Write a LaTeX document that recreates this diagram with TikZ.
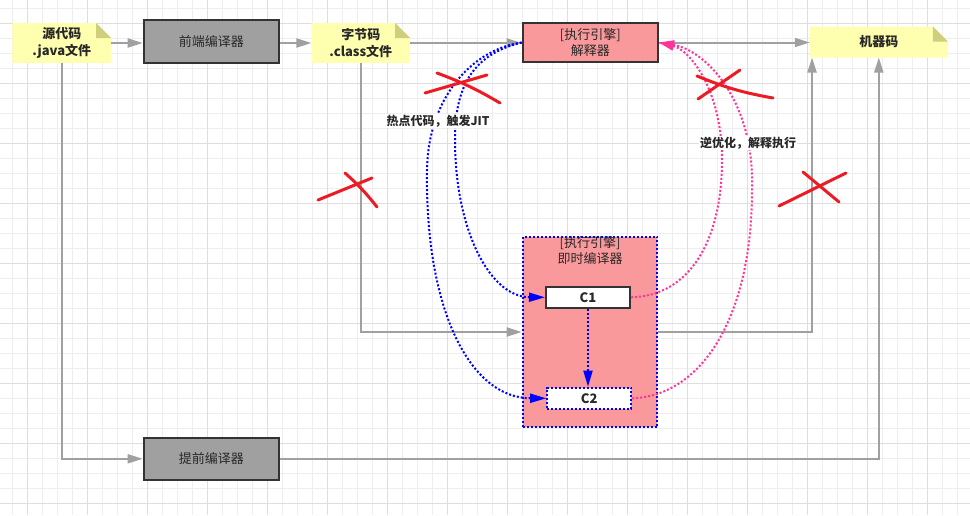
\documentclass[tikz,border=0pt]{standalone}
\usepackage{fontspec}
\setmainfont{Noto Sans CJK SC}
\usetikzlibrary{arrows.meta,calc}
\definecolor{minorgrid}{RGB}{238,238,238}
\definecolor{majorgrid}{RGB}{222,222,222}
\definecolor{notefill}{RGB}{255,255,176}
\definecolor{notefold}{RGB}{206,206,124}
\definecolor{greyfill}{RGB}{160,160,160}
\definecolor{boxline}{RGB}{51,51,51}
\definecolor{txt}{RGB}{40,40,40}
\definecolor{pinkfill}{RGB}{250,153,155}
\definecolor{conncol}{RGB}{160,160,160}
\definecolor{jitblue}{RGB}{0,0,255}
\definecolor{deoptpink}{RGB}{255,51,153}
\definecolor{crossred}{RGB}{237,28,36}
\pgfdeclarelayer{gridlayer}
\pgfdeclarelayer{notelayer}
\pgfsetlayers{gridlayer,notelayer,main}
\begin{document}
\begin{tikzpicture}[x=1pt,y=-1pt,
  box/.style={draw=boxline,line width=2pt,text=txt,font=\fontsize{13}{16}\selectfont,align=center,inner sep=0pt},
  greybox/.style={box,fill=greyfill,minimum width=135.3pt,minimum height=43pt},
  notenode/.style={inner sep=0pt,text=txt,font=\fontsize{13}{16.5}\selectfont\bfseries,align=center},
  cbox/.style={box,fill=white,minimum width=84pt,minimum height=21.3pt,font=\fontsize{13}{16}\selectfont\bfseries},
  conn/.style={draw=conncol,line width=2pt,-{Triangle[length=15pt,width=9pt]}},
  blueconn/.style={draw=jitblue,line width=2pt,dotted,-{Triangle[length=16pt,width=9pt,fill=jitblue]}},
  pinkconn/.style={draw=deoptpink,line width=2pt,dotted,-{Triangle[length=15pt,width=9pt,fill=deoptpink]}},
  lbl/.style={fill=white,inner sep=1pt,text=txt,font=\fontsize{12}{14}\selectfont\bfseries},
  crossline/.style={draw=crossred,line width=3pt,line cap=round}
]
\useasboundingbox (0,0) rectangle (970,515);
\begin{pgfonlayer}{gridlayer}
  \fill[white] (0,0) rectangle (970,515);
  \foreach \i in {0,...,63} \draw[minorgrid,line width=1pt] ({12.7+15*\i},0) -- ({12.7+15*\i},515);
  \foreach \i in {0,...,33} \draw[minorgrid,line width=1pt] (0,{8.3+15*\i}) -- (970,{8.3+15*\i});
  \foreach \i in {0,...,15} \draw[majorgrid,line width=1pt] ({27.7+60*\i},0) -- ({27.7+60*\i},515);
  \foreach \i in {0,...,8} \draw[majorgrid,line width=1pt] (0,{23.3+60*\i}) -- (970,{23.3+60*\i});
\end{pgfonlayer}

% nodes
\node[notenode,minimum width=98.3pt,minimum height=39.4pt] (src) at (61.8,43) {源代码\\.java文件};
\node[greybox] (fe) at (211.3,41.8) {前端编译器};
\node[notenode,minimum width=98.3pt,minimum height=39.4pt] (bc) at (360.8,43) {字节码\\.class文件};
\node[box,fill=pinkfill,minimum width=135.3pt,minimum height=38.4pt] (interp) at (590.3,42.5) {[执行引擎]\\解释器};
\node[notenode,minimum width=137.7pt,minimum height=30.6pt] (mc) at (878.8,42) {机器码};
\node[greybox,minimum height=42.3pt] (aot) at (211.3,458.8) {提前编译器};
\node[draw=jitblue,dotted,line width=2pt,fill=pinkfill,minimum width=134.6pt,minimum height=190.6pt,inner sep=0pt] (jit) at (590,332) {};
\node[text=txt,font=\fontsize{13}{16}\selectfont,align=center,inner sep=0pt] (jitlabel) at ($(jit.north)+(0,15)$) {[执行引擎]\\即时编译器};
\node[cbox] (c1) at (588,297.3) {C1};
\node[cbox,draw=jitblue,dotted] (c2) at (589.2,398.3) {C2};

% note backgrounds
\begin{pgfonlayer}{notelayer}
  \foreach \n in {src,bc,mc} {
    \fill[notefill] (\n.north west) -- ($(\n.north east)+(-15,0)$) -- ($(\n.north east)+(0,15)$) -- (\n.south east) -- (\n.south west) -- cycle;
    \fill[notefold] ($(\n.north east)+(-15,0)$) -- ($(\n.north east)+(-15,15)$) -- ($(\n.north east)+(0,15)$) -- cycle;
  }
\end{pgfonlayer}

% grey connectors
\draw[conn] (src.east) -- (src.east -| fe.west);
\draw[conn] (fe.east |- bc.east) -- (bc.west);
\draw[conn] (bc.east) -- (bc.east -| interp.west);
\draw[conn] (interp.east) -- (interp.east -| mc.west);
\draw[conn] (src.south) |- (aot.west);
\draw[conn] (aot.east) -| (mc.south);
\draw[conn] (bc.south) |- (jit.west);
\coordinate (mcin) at ($(mc.south west)+(2.3,0)$);
\draw[conn] (jit.east) -| (mcin);

% JIT connectors (blue)
\draw[blueconn] (interp.west) .. controls (470,55) and (455,90) .. (455,140) .. controls (455,230) and (490,297) .. (c1.west);
\draw[blueconn] (interp.west) .. controls (470,50) and (428,100) .. (427,170) .. controls (425,310) and (470,398) .. (c2.west);
\draw[blueconn] (c1.south) -- (c1.south |- c2.north);

% deoptimisation (pink)
\draw[pinkconn] (c1.east) .. controls (690,296) and (722,240) .. (722,160) .. controls (722,90) and (690,50) .. (interp.east);
\draw[pinkconn] (c2.east) .. controls (700,396) and (752,320) .. (752,190) .. controls (755,100) and (705,50) .. (interp.east);

% labels
\node[lbl] (hot) at (438,121) {热点代码，触发JIT};
\node[lbl] (deopt) at (748,143) {逆优化，解释执行};

% red crosses
\draw[crossline] (425,93) -- (487,75);
\draw[crossline] (437,73) to[bend left=5] (500,103);
\draw[crossline] (318,200) -- (372,178);
\draw[crossline] (345,173) to[bend left=5] (377,207);
\draw[crossline] (698,99) -- (740,70);
\draw[crossline] (697,76) to[bend right=6] (773,98);
\draw[crossline] (779,206) -- (846,173);
\draw[crossline] (803,172) -- (839,202);
\end{tikzpicture}
\end{document}
